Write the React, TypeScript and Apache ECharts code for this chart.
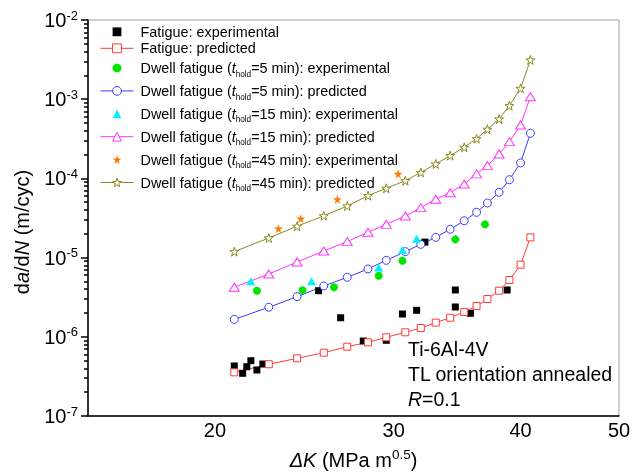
import React, { useEffect, useRef } from 'react';
import * as echarts from 'echarts';

// ΔK grid of the predicted curves (MPa m^0.5)
const dKPred = [20.9, 22.6, 24.1, 25.6, 27.0, 28.3, 29.5, 30.8, 31.9, 33.0, 34.1, 35.2, 36.2, 37.1, 38.1, 39.0, 40.0, 40.9];
const fatiguePred = [3.56e-7, 4.5e-7, 5.35e-7, 6.3e-7, 7.5e-7, 8.52e-7, 9.86e-7, 1.14e-6, 1.29e-6, 1.51e-6, 1.74e-6, 2.06e-6, 2.45e-6, 3.0e-6, 3.82e-6, 5.21e-6, 8.14e-6, 1.8e-5];
const dwell5Pred = [1.66e-6, 2.36e-6, 3.21e-6, 4.38e-6, 5.64e-6, 7.18e-6, 9.24e-6, 1.19e-5, 1.47e-5, 1.8e-5, 2.28e-5, 2.92e-5, 3.73e-5, 4.89e-5, 6.68e-5, 9.63e-5, 1.57e-4, 3.71e-4];
const dwell15Pred = [4.22e-6, 6.21e-6, 8.8e-6, 1.21e-5, 1.59e-5, 2.09e-5, 2.63e-5, 3.35e-5, 4.27e-5, 5.45e-5, 6.6e-5, 8.5e-5, 1.14e-4, 1.45e-4, 2.03e-4, 2.91e-4, 4.72e-4, 1.075e-3];
const dwell45Pred = [1.19e-5, 1.77e-5, 2.49e-5, 3.37e-5, 4.48e-5, 6.05e-5, 7.5e-5, 9.35e-5, 1.19e-4, 1.52e-4, 1.94e-4, 2.47e-4, 3.17e-4, 4.17e-4, 5.62e-4, 8.28e-4, 1.37e-3, 3.13e-3];

// Experimental data
const fatigueExpK = [20.9, 21.3, 21.5, 21.7, 22.0, 22.3, 25.3, 26.6, 28.0, 29.5, 30.6, 31.6, 32.2, 34.5, 34.5, 35.7, 38.8];
const fatigueExp = [4.28e-7, 3.46e-7, 4.19e-7, 4.99e-7, 3.81e-7, 4.53e-7, 3.82e-6, 1.74e-6, 8.85e-7, 9.03e-7, 1.94e-6, 2.16e-6, 1.57e-5, 3.9e-6, 2.38e-6, 1.98e-6, 3.9e-6];
const dwell5ExpK = [22.0, 24.4, 26.2, 29.0, 30.6, 34.5, 36.9];
const dwell5Exp = [3.82e-6, 3.87e-6, 4.22e-6, 5.91e-6, 9.14e-6, 1.7e-5, 2.63e-5];
const dwell15ExpK = [21.7, 24.9, 29.0, 30.6, 31.6];
const dwell15Exp = [5.02e-6, 5.02e-6, 7.5e-6, 1.25e-5, 1.73e-5];
const dwell45ExpK = [23.1, 24.3, 26.4, 30.3];
const dwell45Exp = [2.32e-5, 3.1e-5, 5.45e-5, 1.14e-4];

// Axes
const xRange = [15, 50];
const xTickLabels = [20, 30, 40, 50];
const yDecades = [-7, -6, -5, -4, -3, -2];
const yMinorMultipliers = [2, 3, 4, 5, 6, 7, 8, 9];

const FONT = '"Liberation Sans", Arial, sans-serif';
const RED = '#ff3b3b';
const BLUE = '#3a3aff';
const MAGENTA = '#ff33ff';
const OLIVE = '#8a8a20';
const GREEN = '#00e600';
const CYAN = '#00f0ff';
const ORANGE = '#ff7a00';
const STAR = 'path://M0,-10L2.245,-3.09L9.51,-3.09L3.633,1.18L5.88,8.09L0,3.82L-5.88,8.09L-3.633,1.18L-9.51,-3.09L-2.245,-3.09Z';

const L = Math.log10;
const pts = (xs: number[], ys: number[]) => xs.map((x, i) => [L(x), L(ys[i])]);

type Def = {
  name: string;
  label: string;
  xs: number[];
  ys: number[];
  symbol: string;
  size: number | number[];
  color: string;
  hollow: boolean;
};

const defs: Def[] = [
  { name: 'Fatigue: experimental', label: 'Fatigue: experimental', xs: fatigueExpK, ys: fatigueExp, symbol: 'rect', size: 7, color: '#000', hollow: false },
  { name: 'Fatigue: predicted', label: 'Fatigue: predicted', xs: dKPred, ys: fatiguePred, symbol: 'rect', size: 7, color: RED, hollow: true },
  { name: 'Dwell 5 exp', label: 'Dwell fatigue ({t|t}{s|hold}=5 min): experimental', xs: dwell5ExpK, ys: dwell5Exp, symbol: 'circle', size: 8, color: GREEN, hollow: false },
  { name: 'Dwell 5 pred', label: 'Dwell fatigue ({t|t}{s|hold}=5 min): predicted', xs: dKPred, ys: dwell5Pred, symbol: 'circle', size: 8, color: BLUE, hollow: true },
  { name: 'Dwell 15 exp', label: 'Dwell fatigue ({t|t}{s|hold}=15 min): experimental', xs: dwell15ExpK, ys: dwell15Exp, symbol: 'triangle', size: [9, 8], color: CYAN, hollow: false },
  { name: 'Dwell 15 pred', label: 'Dwell fatigue ({t|t}{s|hold}=15 min): predicted', xs: dKPred, ys: dwell15Pred, symbol: 'triangle', size: [10, 8], color: MAGENTA, hollow: true },
  { name: 'Dwell 45 exp', label: 'Dwell fatigue ({t|t}{s|hold}=45 min): experimental', xs: dwell45ExpK, ys: dwell45Exp, symbol: STAR, size: 9, color: ORANGE, hollow: false },
  { name: 'Dwell 45 pred', label: 'Dwell fatigue ({t|t}{s|hold}=45 min): predicted', xs: dKPred, ys: dwell45Pred, symbol: STAR, size: 9, color: OLIVE, hollow: true },
];

export default function App() {
  const ref = useRef<HTMLDivElement>(null);
  useEffect(() => {
    if (!ref.current) return;
    const chart = echarts.init(ref.current, null, { renderer: 'svg' });
    const labelMap: Record<string, string> = {};
    defs.forEach((d) => (labelMap[d.name] = d.label));

    const series = defs.map((d) => ({
      name: d.name,
      type: 'line',
      data: pts(d.xs, d.ys),
      symbol: d.symbol,
      symbolSize: d.size,
      showSymbol: true,
      silent: true,
      lineStyle: d.hollow ? { color: d.color, width: 1 } : { width: 0, color: d.color },
      itemStyle: d.hollow
        ? { color: '#fff', borderColor: d.color, borderWidth: 1 }
        : { color: d.color, borderWidth: 0 },
      emphasis: { disabled: true },
    }));

    const legendData = defs.map((d) => ({
      name: d.name,
      itemStyle: d.hollow
        ? { color: '#fff', borderColor: d.color, borderWidth: 1 }
        : { color: d.color, borderColor: d.color, borderWidth: 0 },
      lineStyle: d.hollow ? { color: d.color, width: 1 } : { color: d.color, width: 0 },
    }));

    const yMinorTicks: number[] = [];
    yDecades.slice(0, -1).forEach((e) => yMinorMultipliers.forEach((m) => yMinorTicks.push(e + L(m))));

    chart.setOption({
      animation: false,
      textStyle: { fontFamily: FONT },
      grid: {
        left: 88,
        right: 13,
        top: 20,
        bottom: 60,
        containLabel: false,
        outerBoundsMode: 'none',
        show: true,
        borderColor: '#a0a0a0',
        borderWidth: 1,
      },
      legend: {
        data: legendData,
        orient: 'vertical',
        left: 100,
        top: 24.8,
        padding: 0,
        itemGap: 2.5,
        itemWidth: 33,
        itemHeight: 11,
        selectedMode: false,
        formatter: (name: string) => labelMap[name],
        textStyle: {
          fontFamily: FONT,
          fontSize: 14.4,
          lineHeight: 14,
          color: '#000',
          padding: [0, 0, 0, 2],
          rich: {
            t: { fontFamily: FONT, fontStyle: 'italic', fontSize: 14.4, lineHeight: 14, color: '#000' },
            s: { fontFamily: FONT, fontSize: 8.2, lineHeight: 8, color: '#000', padding: [12.4, 0, 0, 0] },
          },
        },
      },
      xAxis: {
        type: 'value',
        min: L(xRange[0]),
        max: L(xRange[1]),
        axisLine: { lineStyle: { color: '#000', width: 1.5 } },
        axisTick: { show: false },
        splitLine: { show: false },
        axisLabel: {
          customValues: xTickLabels.map(L),
          formatter: (v: number) => String(Math.round(Math.pow(10, v))),
          fontSize: 20,
          color: '#000',
          margin: 4,
          fontFamily: FONT,
        },
        name: '{i|ΔK} (MPa m{sup|0.5})',
        nameLocation: 'middle',
        nameGap: 34,
        nameTextStyle: {
          fontFamily: FONT,
          fontSize: 20,
          lineHeight: 20,
          color: '#000',
          rich: {
            i: { fontFamily: FONT, fontStyle: 'italic', fontSize: 20, lineHeight: 20, color: '#000' },
            sup: { fontFamily: FONT, fontSize: 13.5, lineHeight: 13.5, color: '#000', padding: [0, 0, 12, 0] },
          },
        },
      },
      yAxis: [
        {
          type: 'value',
          position: 'left',
          min: yDecades[0],
          max: yDecades[yDecades.length - 1],
          interval: 1,
          axisLine: { lineStyle: { color: '#000', width: 1.5 } },
          axisTick: { inside: false, length: 7, lineStyle: { color: '#000', width: 1.5 } },
          splitLine: { show: false },
          axisLabel: {
            margin: 10,
            formatter: (v: number) => `{b|10}{e|${Math.round(v)}}`,
            rich: {
              b: { fontFamily: FONT, fontSize: 20, lineHeight: 20, color: '#000' },
              e: { fontFamily: FONT, fontSize: 13, lineHeight: 13, color: '#000', padding: [0, 0, 10, 0] },
            },
          },
          name: 'd{i|a}/d{i|N} (m/cyc)',
          nameLocation: 'middle',
          nameRotate: 90,
          nameGap: 56,
          nameTextStyle: {
            fontFamily: FONT,
            fontSize: 20,
            lineHeight: 20,
            color: '#000',
            padding: [0, 28, 0, 0],
            rich: {
              i: { fontFamily: FONT, fontStyle: 'italic', fontSize: 20, lineHeight: 20, color: '#000' },
            },
          },
        },
        {
          type: 'value',
          position: 'left',
          min: yDecades[0],
          max: yDecades[yDecades.length - 1],
          axisLine: { show: false },
          axisLabel: { show: false },
          splitLine: { show: false },
          axisTick: { customValues: yMinorTicks, inside: false, length: 4, lineStyle: { color: '#000', width: 1.5 } },
        },
      ],
      graphic: [
        {
          type: 'text',
          left: 408,
          top: 336,
          silent: true,
          style: {
            text: 'Ti-6Al-4V\nTL orientation annealed\n{i|R}=0.1',
            fontFamily: FONT,
            fontSize: 19.5,
            lineHeight: 25,
            fill: '#000',
            rich: {
              i: { fontFamily: FONT, fontStyle: 'italic', fontSize: 19.5, lineHeight: 25, fill: '#000' },
            },
          },
        },
      ],
      series,
    });
    return () => chart.dispose();
  }, []);
  return <div ref={ref} style={{ position: 'fixed', left: 0, top: 0, width: 632, height: 476 }} />;
}
